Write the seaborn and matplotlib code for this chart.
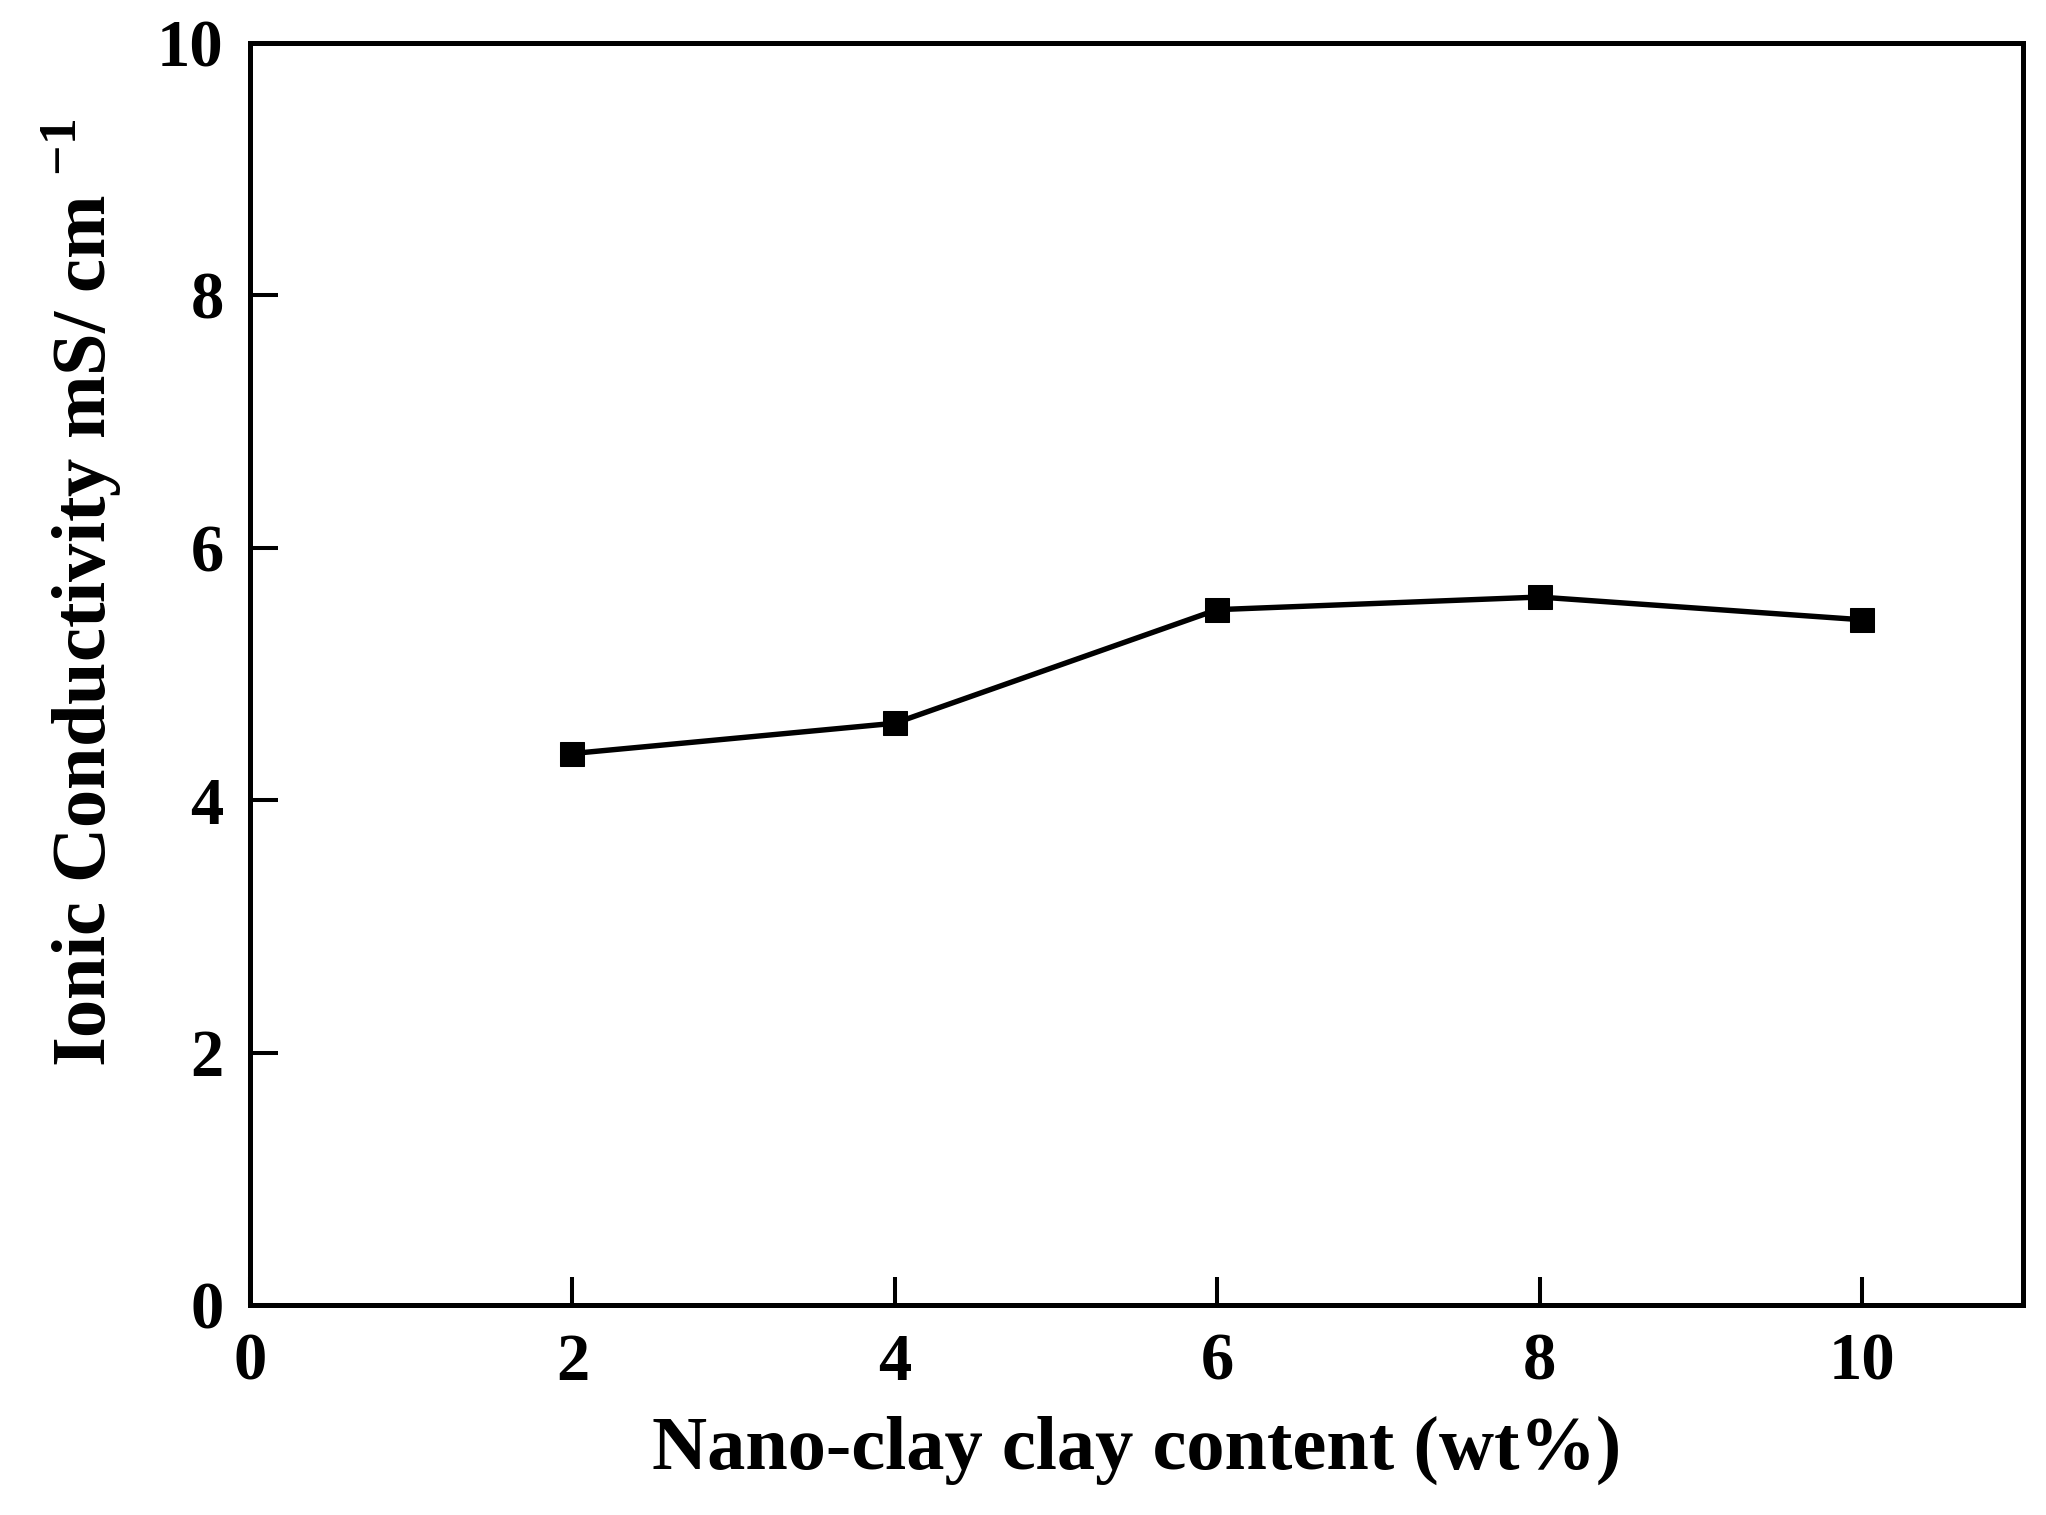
import matplotlib
matplotlib.use("Agg")
import matplotlib.pyplot as plt
import seaborn as sns
import pandas as pd

clay_content = [2, 4, 6, 8, 10]
conductivity = [4.37, 4.61, 5.51, 5.61, 5.43]
x_ticks = [0, 2, 4, 6, 8, 10]
y_ticks = [0, 2, 4, 6, 8, 10]

sns.set_theme(style="ticks")
plt.rcParams['font.family'] = ['Liberation Serif', 'DejaVu Serif']
plt.rcParams['font.weight'] = 'bold'
plt.rcParams['mathtext.fontset'] = 'custom'
plt.rcParams['mathtext.rm'] = 'Liberation Serif:bold'
plt.rcParams['mathtext.bf'] = 'Liberation Serif:bold'

df = pd.DataFrame({"x": clay_content, "y": conductivity})

fig = plt.figure(figsize=(20.46, 15.15), dpi=100)
ax = fig.add_axes([0.1222, 0.1386, 0.8666, 0.833])

sns.lineplot(data=df, x="x", y="y", ax=ax, color="black", linewidth=3.9,
             marker="s", markersize=17, markeredgecolor="black",
             markerfacecolor="black")

ax.set_xlim(0, 11)
ax.set_ylim(0, 10)
ax.set_xticks(x_ticks)
ax.set_yticks(y_ticks)
ax.set_xticklabels([str(t) for t in x_ticks])
ax.set_yticklabels([str(t) for t in y_ticks])

for s in ax.spines.values():
    s.set_linewidth(3.6)
    s.set_color("black")

ax.tick_params(axis="both", direction="in", length=20, width=2.9,
               labelsize=48, color="black", labelcolor="black")
ax.tick_params(axis="x", pad=20)
ax.tick_params(axis="y", pad=19)
for lab in ax.get_xticklabels() + ax.get_yticklabels():
    lab.set_fontweight("bold")

ax.set_xlabel("Nano-clay clay content (wt%)", fontsize=55, fontweight="bold",
              labelpad=16, color="black")
ax.set_ylabel(r"Ionic Conductivity mS/ cm $^{\mathbf{-1}}$", fontsize=55,
              fontweight="bold", color="black")
ax.yaxis.set_label_coords(-0.071, 0.564)

fig.savefig("out.png", dpi=100, facecolor="white")
